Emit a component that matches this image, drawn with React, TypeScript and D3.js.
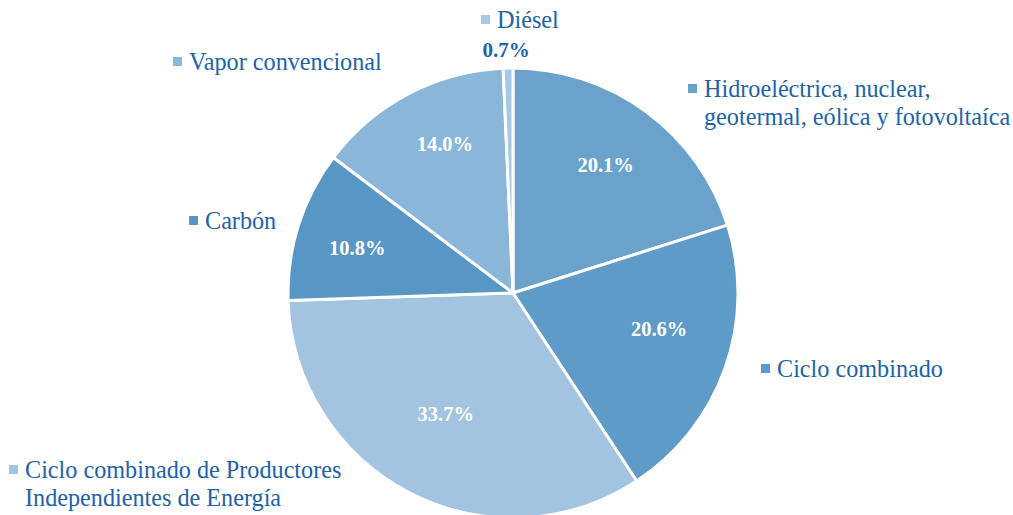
import React from "react";
import * as d3 from "d3";

const categories = [
  "Hidroeléctrica, nuclear, geotermal, eólica y fotovoltaíca",
  "Ciclo combinado",
  "Ciclo combinado de Productores Independientes de Energía",
  "Carbón",
  "Vapor convencional",
  "Diésel",
];
const values = [20.1, 20.6, 33.7, 10.8, 14.0, 0.7];
const colors = ["#6AA2CC", "#5E9BC8", "#A2C4E0", "#5896C6", "#8AB7D9", "#A4C8E5"];

// legend label lines and layout (text anchor x, first baseline y)
const legendLines = [
  ["Hidroeléctrica, nuclear,", "geotermal, eólica y fotovoltaíca"],
  ["Ciclo combinado"],
  ["Ciclo combinado de Productores", "Independientes de Energía"],
  ["Carbón"],
  ["Vapor convencional"],
  ["Diésel"],
];
const legendPos = [
  [704, 97],
  [777, 377],
  [25, 478],
  [205, 229],
  [189, 70],
  [497, 28],
];
// small nudges of the in-slice percentage labels from the arc centroid
const labelNudge = [
  [1, -3],
  [0, -16],
  [4, -17],
  [-8, 2],
  [4, -12],
  [0, 0],
];

const W = 1013;
const H = 515;
const cx = 513;
const cy = 293;
const R = 225;
const TEXT = "#1C63AA";

export default function App() {
  const pie = d3
    .pie<number>()
    .sort(null)
    .value((d) => d)
    .startAngle(0)
    .endAngle(2 * Math.PI);
  const arcs = pie(values);
  const arc = d3.arc<d3.PieArcDatum<number>>().innerRadius(0).outerRadius(R);
  const labelArc = d3
    .arc<d3.PieArcDatum<number>>()
    .innerRadius(155)
    .outerRadius(155);

  return (
    <svg
      width={W}
      height={H}
      style={{ position: "absolute", left: 0, top: 0, background: "#fff" }}
      fontFamily="'Liberation Serif', 'Times New Roman', serif"
    >
      <g transform={`translate(${cx},${cy})`}>
        {arcs.map((a, i) => (
          <path key={i} d={arc(a) || ""} fill={colors[i]} stroke="#fff" strokeWidth={3} strokeLinejoin="round" />
        ))}
        {arcs.map((a, i) => {
          if (i === 5) return null;
          const [x, y] = labelArc.centroid(a);
          return (
            <text
              key={i}
              x={x + labelNudge[i][0]}
              y={y + labelNudge[i][1]}
              textAnchor="middle"
              dominantBaseline="central"
              fill="#fff"
              fontWeight="bold"
              fontSize={20.5}
            >
              {values[i].toFixed(1)}%
            </text>
          );
        })}
      </g>
      {legendLines.map((lines, i) => {
        const [x, y] = legendPos[i];
        return (
          <g key={i}>
            <rect x={x - 16} y={y - 13} width={9} height={9} fill={colors[i]} />
            {lines.map((l, j) => (
              <text key={j} x={x} y={y + j * 28} fill={TEXT} fontSize={24.2}>
                {l}
              </text>
            ))}
          </g>
        );
      })}
      <text x={506} y={57} textAnchor="middle" fill={TEXT} fontWeight="bold" fontSize={21}>
        {values[5].toFixed(1)}%
      </text>
    </svg>
  );
}
